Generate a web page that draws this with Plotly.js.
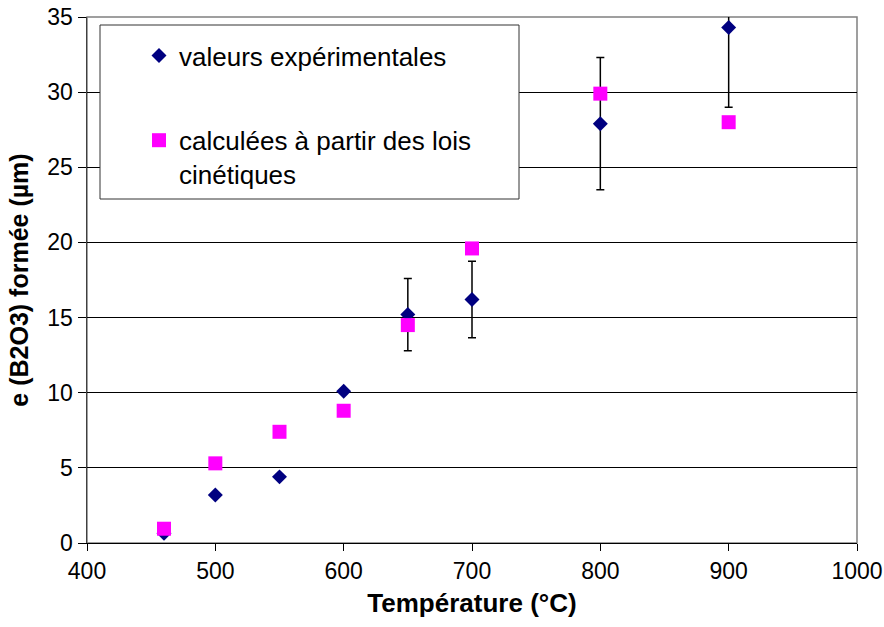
<!DOCTYPE html>
<html><head><meta charset="utf-8">
<script src="https://cdn.plot.ly/plotly-3.0.1.min.js"></script>
<style>body{margin:0;background:#fff}#c{width:884px;height:627px}</style>
</head><body><div id="c"></div>
<script>
const temperatures = [460, 500, 550, 600, 650, 700, 800, 900];
const experimental = [0.65, 3.2, 4.4, 10.1, 15.2, 16.2, 27.9, 34.3];
const experimentalError = [0, 0, 0, 0, 2.4, 2.55, 4.4, 5.3];
const calculated = [0.95, 5.3, 7.4, 8.8, 14.5, 19.6, 29.9, 28.0];
const xTicks = [400, 500, 600, 700, 800, 900, 1000];
const yTicks = [0, 5, 10, 15, 20, 25, 30, 35];

const FONT = 'Arial, "Liberation Sans", sans-serif';
const L = 87, R = 27, T = 17, B = 84, W = 884, H = 627;
const pw = W - L - R, ph = H - T - B;
const px = v => (v - L) / pw;
const py = v => (H - B - v) / ph;

const traces = [
  {
    x: temperatures, y: experimental, type: 'scatter', mode: 'markers',
    name: 'valeurs expérimentales', legendgroup: 'a',
    marker: {symbol: 'diamond', size: 11.5, color: '#000080'},
    error_y: {type: 'data', array: experimentalError, visible: true, color: '#000', thickness: 1.5, width: 4},
    cliponaxis: true
  },
  {
    x: temperatures, y: calculated, type: 'scatter', mode: 'markers',
    name: 'calculées à partir des lois<br>cinétiques', legendgroup: 'b',
    marker: {symbol: 'square', size: 14, color: '#FF00FF'}
  }
];

const layout = {
  width: W, height: H,
  margin: {l: L, r: R, t: T, b: B},
  paper_bgcolor: '#fff', plot_bgcolor: '#fff',
  font: {family: FONT, size: 23, color: '#000'},
  showlegend: true,
  legend: {
    x: px(139), y: py(32), xanchor: 'left', yanchor: 'top',
    bgcolor: 'rgba(0,0,0,0)', borderwidth: 0,
    font: {family: FONT, size: 26, color: '#000'},
    tracegroupgap: 48, valign: 'top', itemwidth: 30
  },
  xaxis: {
    range: [400, 1000], tickvals: xTicks, ticktext: xTicks.map(String),
    showgrid: false, zeroline: false,
    showline: true, linecolor: '#000', linewidth: 1,
    ticks: 'outside', ticklen: 7, tickcolor: '#000',
    tickfont: {family: FONT, size: 23},
    title: {text: '<b>Température (°C)</b>', font: {family: FONT, size: 26}, standoff: 11}
  },
  yaxis: {
    range: [0, 35], tickvals: yTicks, ticktext: yTicks.map(String),
    showgrid: true, gridcolor: '#000', gridwidth: 1, zeroline: false,
    showline: true, linecolor: '#404040', linewidth: 1.5,
    ticks: 'outside', ticklen: 8, tickcolor: '#000',
    tickfont: {family: FONT, size: 23},
    title: {text: '<b>e (B2O3) formée (µm)</b>', font: {family: FONT, size: 25}, standoff: 11}
  },
  shapes: [
    {type: 'rect', xref: 'paper', yref: 'paper', x0: 0, x1: 1, y0: 0, y1: 1,
     line: {color: '#808080', width: 1.5}, fillcolor: 'rgba(0,0,0,0)', layer: 'below'},
    {type: 'rect', xref: 'paper', yref: 'paper', x0: px(100), x1: px(519), y0: py(199), y1: py(25),
     line: {color: '#333', width: 1}, fillcolor: '#fff', layer: 'above'}
  ]
};

Plotly.newPlot('c', traces, layout, {displayModeBar: false, staticPlot: true});
</script></body></html>
